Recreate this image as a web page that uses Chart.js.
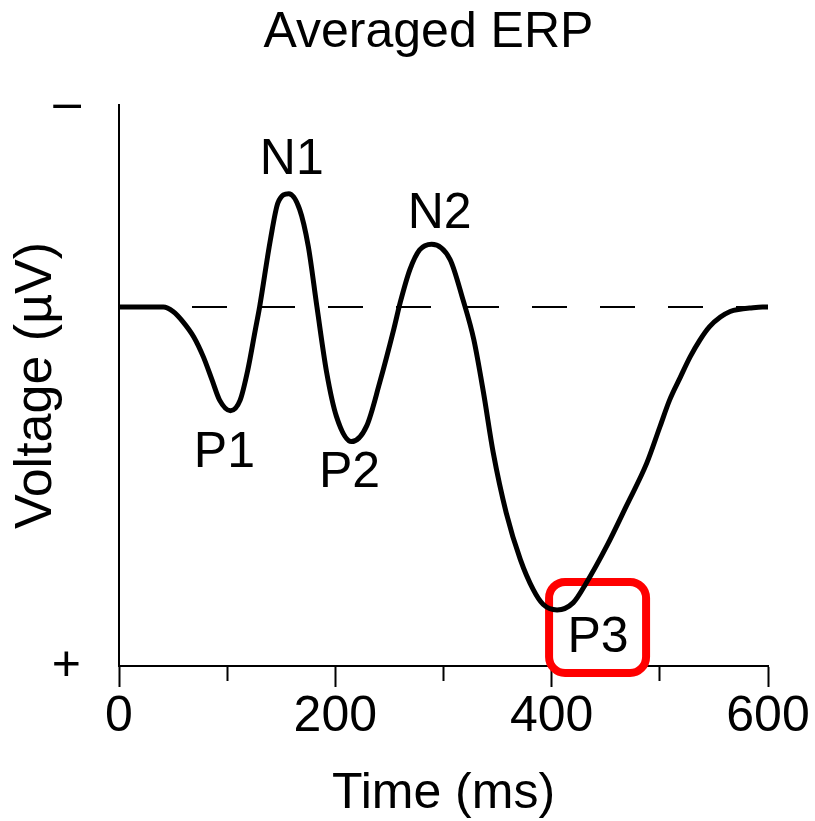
<!DOCTYPE html>
<html>
<head>
<meta charset="utf-8">
<title>Averaged ERP</title>
<script src="https://cdn.jsdelivr.net/npm/chart.js@4/dist/chart.umd.min.js"></script>
<style>
  html, body { margin: 0; padding: 0; background: #fff; }
  #wrap { width: 815px; height: 821px; }
</style>
</head>
<body>
<div id="wrap"><canvas id="erp" width="815" height="821"></canvas></div>
<script>
// Averaged ERP waveform (negative plotted up)
const timesMs = [0, 20, 41, 50, 59, 69, 78, 86, 93, 103, 112, 119, 126, 130, 140, 147, 157, 167, 175, 183, 192, 201,
  215, 229, 241, 254, 260, 269, 278, 289, 306, 318, 328, 337, 346, 358, 371, 383, 392, 405, 420,
  432, 451, 469, 488, 500, 509, 519, 528, 537, 546, 556, 565, 574, 583, 595, 600];
const voltages = [0, 0, 0, 0.08, 0.26, 0.53, 0.89, 1.30, 1.66, 1.85, 1.66, 1.13, 0.41, 0.0, -1.20, -1.86, -2.02, -1.74, -1.08, 0.0, 1.17, 1.95,
  2.40, 2.12, 1.35, 0.40, -0.08, -0.67, -1.02, -1.12, -0.85, -0.13, 0.58, 1.53, 2.60, 3.67, 4.50, 5.04, 5.30, 5.40, 5.27,
  4.92, 4.26, 3.55, 2.78, 2.14, 1.66, 1.25, 0.89, 0.59, 0.35, 0.18, 0.08, 0.04, 0.02, 0, 0];

// Named components and the latency of each peak
const peakNames = ['P1', 'N1', 'P2', 'N2', 'P3'];
const peakTimes = [103, 157, 215, 289, 405];
const boxedPeak = 'P3';

// Text
const chartTitle = 'Averaged ERP';
const timeTitle = 'Time (ms)';
const voltTitle = 'Voltage (\u00B5V)';

// Axis setup
const timeRange = [0, 600];
const timeStep = 100;
const timeLabelEvery = 200;
const voltRange = [-3.6, 6.4];
const voltEndLabels = ['\u2013', '+'];

const baseline = [{ x: timeRange[0], y: 0 }, { x: timeRange[1], y: 0 }];
const wave = timesMs.map((t, i) => ({ x: t, y: voltages[i] }));

const FONT = "'Liberation Sans', Arial, Helvetica, sans-serif";
Chart.defaults.font.family = FONT;
Chart.defaults.color = '#000';

// pixel offsets of each peak name relative to its peak
const labelOffsets = { P1: [-6, 56], N1: [3, -20], P2: [-2, 45], N2: [8, -16], P3: [41, 42] };

function peakAnchor(chart, name) {
  const idx = timesMs.indexOf(peakTimes[peakNames.indexOf(name)]);
  const el = chart.getDatasetMeta(0).data[idx];
  const off = labelOffsets[name];
  return { x: el.x + off[0], y: el.y + off[1] };
}

const annotationPlugin = {
  id: 'erpAnnotations',
  beforeDatasetsDraw(chart) {
    // white box with a red rounded frame around the highlighted component
    const a = peakAnchor(chart, boxedPeak);
    const ctx = chart.ctx;
    const l = a.x - 49, t = a.y - 70, w = 97, h = 91, r = 16;
    ctx.save();
    ctx.beginPath();
    ctx.moveTo(l + r, t);
    ctx.arcTo(l + w, t, l + w, t + h, r);
    ctx.arcTo(l + w, t + h, l, t + h, r);
    ctx.arcTo(l, t + h, l, t, r);
    ctx.arcTo(l, t, l + w, t, r);
    ctx.closePath();
    ctx.fillStyle = '#fff';
    ctx.fill();
    ctx.lineWidth = 8;
    ctx.strokeStyle = '#ff0000';
    ctx.stroke();
    ctx.restore();
  },
  afterDatasetsDraw(chart) {
    const ctx = chart.ctx;
    ctx.save();
    ctx.font = '50px ' + FONT;
    ctx.fillStyle = '#000';
    ctx.textAlign = 'center';
    ctx.textBaseline = 'alphabetic';
    peakNames.forEach(name => {
      const a = peakAnchor(chart, name);
      ctx.fillText(name, a.x, a.y);
    });
    // chart heading, centred a little left of the plot centre
    ctx.textBaseline = 'middle';
    ctx.fillText(chartTitle, (chart.chartArea.left + chart.chartArea.right) / 2 - 15, 33);
    ctx.restore();
  }
};

new Chart(document.getElementById('erp'), {
  type: 'line',
  data: {
    datasets: [
      {
        data: wave,
        borderColor: '#000',
        borderWidth: 5,
        pointRadius: 0,
        fill: false,
        cubicInterpolationMode: 'monotone'
      },
      {
        data: baseline,
        borderColor: '#000',
        borderWidth: 2,
        borderDash: [35, 33],
        borderDashOffset: 63,
        pointRadius: 0,
        fill: false
      }
    ]
  },
  options: {
    responsive: false,
    animation: false,
    devicePixelRatio: 1,
    layout: { padding: { top: 105, left: 0, right: 47, bottom: 0 } },
    plugins: {
      legend: { display: false },
      tooltip: { enabled: false },
      title: { display: false }
    },
    scales: {
      x: {
        type: 'linear',
        min: timeRange[0],
        max: timeRange[1],
        afterFit(scale) { scale.height = 155; },
        border: { display: true, color: '#000', width: 2 },
        grid: {
          drawOnChartArea: false,
          drawTicks: true,
          tickLength: 21,
          tickWidth: 2,
          tickColor: '#000',
          tickBorderDash: ctx => (ctx.tick && ctx.tick.value % timeLabelEvery !== 0) ? [14, 100] : []
        },
        ticks: {
          stepSize: timeStep,
          autoSkip: false,
          maxRotation: 0,
          padding: 0,
          color: '#000',
          font: { size: 50, lineHeight: 1.2 },
          callback: v => (v % timeLabelEvery === 0 ? String(v) : '')
        },
        title: {
          display: true,
          text: timeTitle,
          color: '#000',
          font: { size: 50, lineHeight: 1.0 },
          padding: { top: 0, bottom: 1.5 }
        }
      },
      y: {
        type: 'linear',
        reverse: true,
        min: voltRange[0],
        max: voltRange[1],
        afterFit(scale) { scale.width = 119; },
        afterBuildTicks(scale) {
          scale.ticks = [{ value: voltRange[0] }, { value: voltRange[1] }];
        },
        border: { display: true, color: '#000', width: 2 },
        grid: { drawOnChartArea: false, drawTicks: false },
        ticks: {
          padding: 38,
          color: '#000',
          font: { size: 50, lineHeight: 1.2 },
          callback: v => (v === voltRange[0] ? voltEndLabels[0] : voltEndLabels[1])
        },
        title: {
          display: true,
          text: voltTitle,
          color: '#000',
          font: { size: 52, lineHeight: 1.2 },
          padding: { top: 5, bottom: 0 }
        }
      }
    }
  },
  plugins: [annotationPlugin]
});
</script>
</body>
</html>
